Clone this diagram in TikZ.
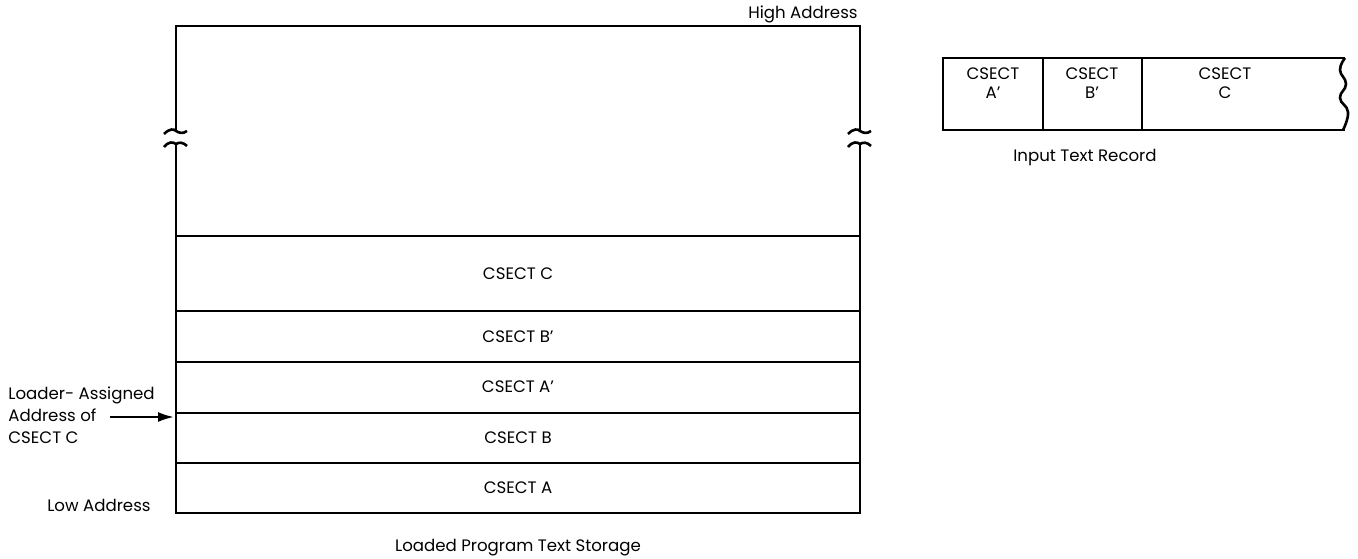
\documentclass[tikz,border=0pt]{standalone}
\usepackage{fontspec}
\setmainfont{Poppins}
\usepackage{tikz}
\usetikzlibrary{arrows.meta,positioning}

\begin{document}
\begin{tikzpicture}[
  x=0.5pt, y=-0.5pt,
  font=\fontsize{8.3}{9.5}\selectfont,
  >={Latex[length=8pt,width=5pt]},
  wall/.style={line width=1.3pt},
  lbl/.style={inner sep=0pt, align=center},
  arr/.style={->, line width=1.1pt}
]
\useasboundingbox (0,0) rectangle (1358,558);

% loaded program text storage
\draw[wall] (176,131) -- (176,26) -- (860,26) -- (860,131);
\draw[wall] (176,144) -- (176,513) -- (860,513) -- (860,144);
\foreach \bx in {176,860}{
  \draw[wall] (\bx-12,134) .. controls (\bx-6,128) and (\bx-2,129) .. (\bx,131)
              .. controls (\bx+3,133) and (\bx+7,134) .. (\bx+11,131);
  \draw[wall] (\bx-12,147) .. controls (\bx-7,141) and (\bx-3,142) .. (\bx,144)
              .. controls (\bx+3,142) and (\bx+7,142) .. (\bx+11,146);
}
\foreach \ry in {236,311,362,413,463}
  \draw[wall] (176,\ry) -- (860,\ry);

\node[lbl] (C)  at (518,274) {CSECT C};
\node[lbl] (Bp) at (518,337) {CSECT B'};
\node[lbl] (Ap) at (518,387) {CSECT A'};
\node[lbl] (B)  at (518,438) {CSECT B};
\node[lbl] (A)  at (518,488) {CSECT A};

\node[lbl, anchor=east] (high) at (858,14) {High Address};
\node[lbl, anchor=east] (low) at (151,505) {Low Address};
\node[lbl] (storage) at (518,548) {Loaded Program Text Storage};

\node[lbl, align=left, anchor=west, font=\fontsize{8.3}{11}\selectfont] (loader) at (8,415)
  {Loader- Assigned\\Address of\\CSECT C};
\coordinate (cAddr) at (174,417);
\draw[arr] (110,417) -- (cAddr);

% input text record
\draw[wall] (1345,58) -- (943,58) -- (943,130) -- (1345,130);
\draw[wall] (1043,58) -- (1043,130);
\draw[wall] (1142,58) -- (1142,130);
\draw[wall] plot[smooth, tension=0.8] coordinates
  {(1345,58) (1340,70) (1346,84) (1340,98) (1348,112) (1343,130)};

\node[lbl] (rA) at (993,83) {CSECT\\A'};
\node[lbl] (rB) at (1092,83) {CSECT\\B'};
\node[lbl] (rC) at (1225,83) {CSECT\\C};
\node[lbl] (record) at (1085,158) {Input Text Record};
\end{tikzpicture}
\end{document}
